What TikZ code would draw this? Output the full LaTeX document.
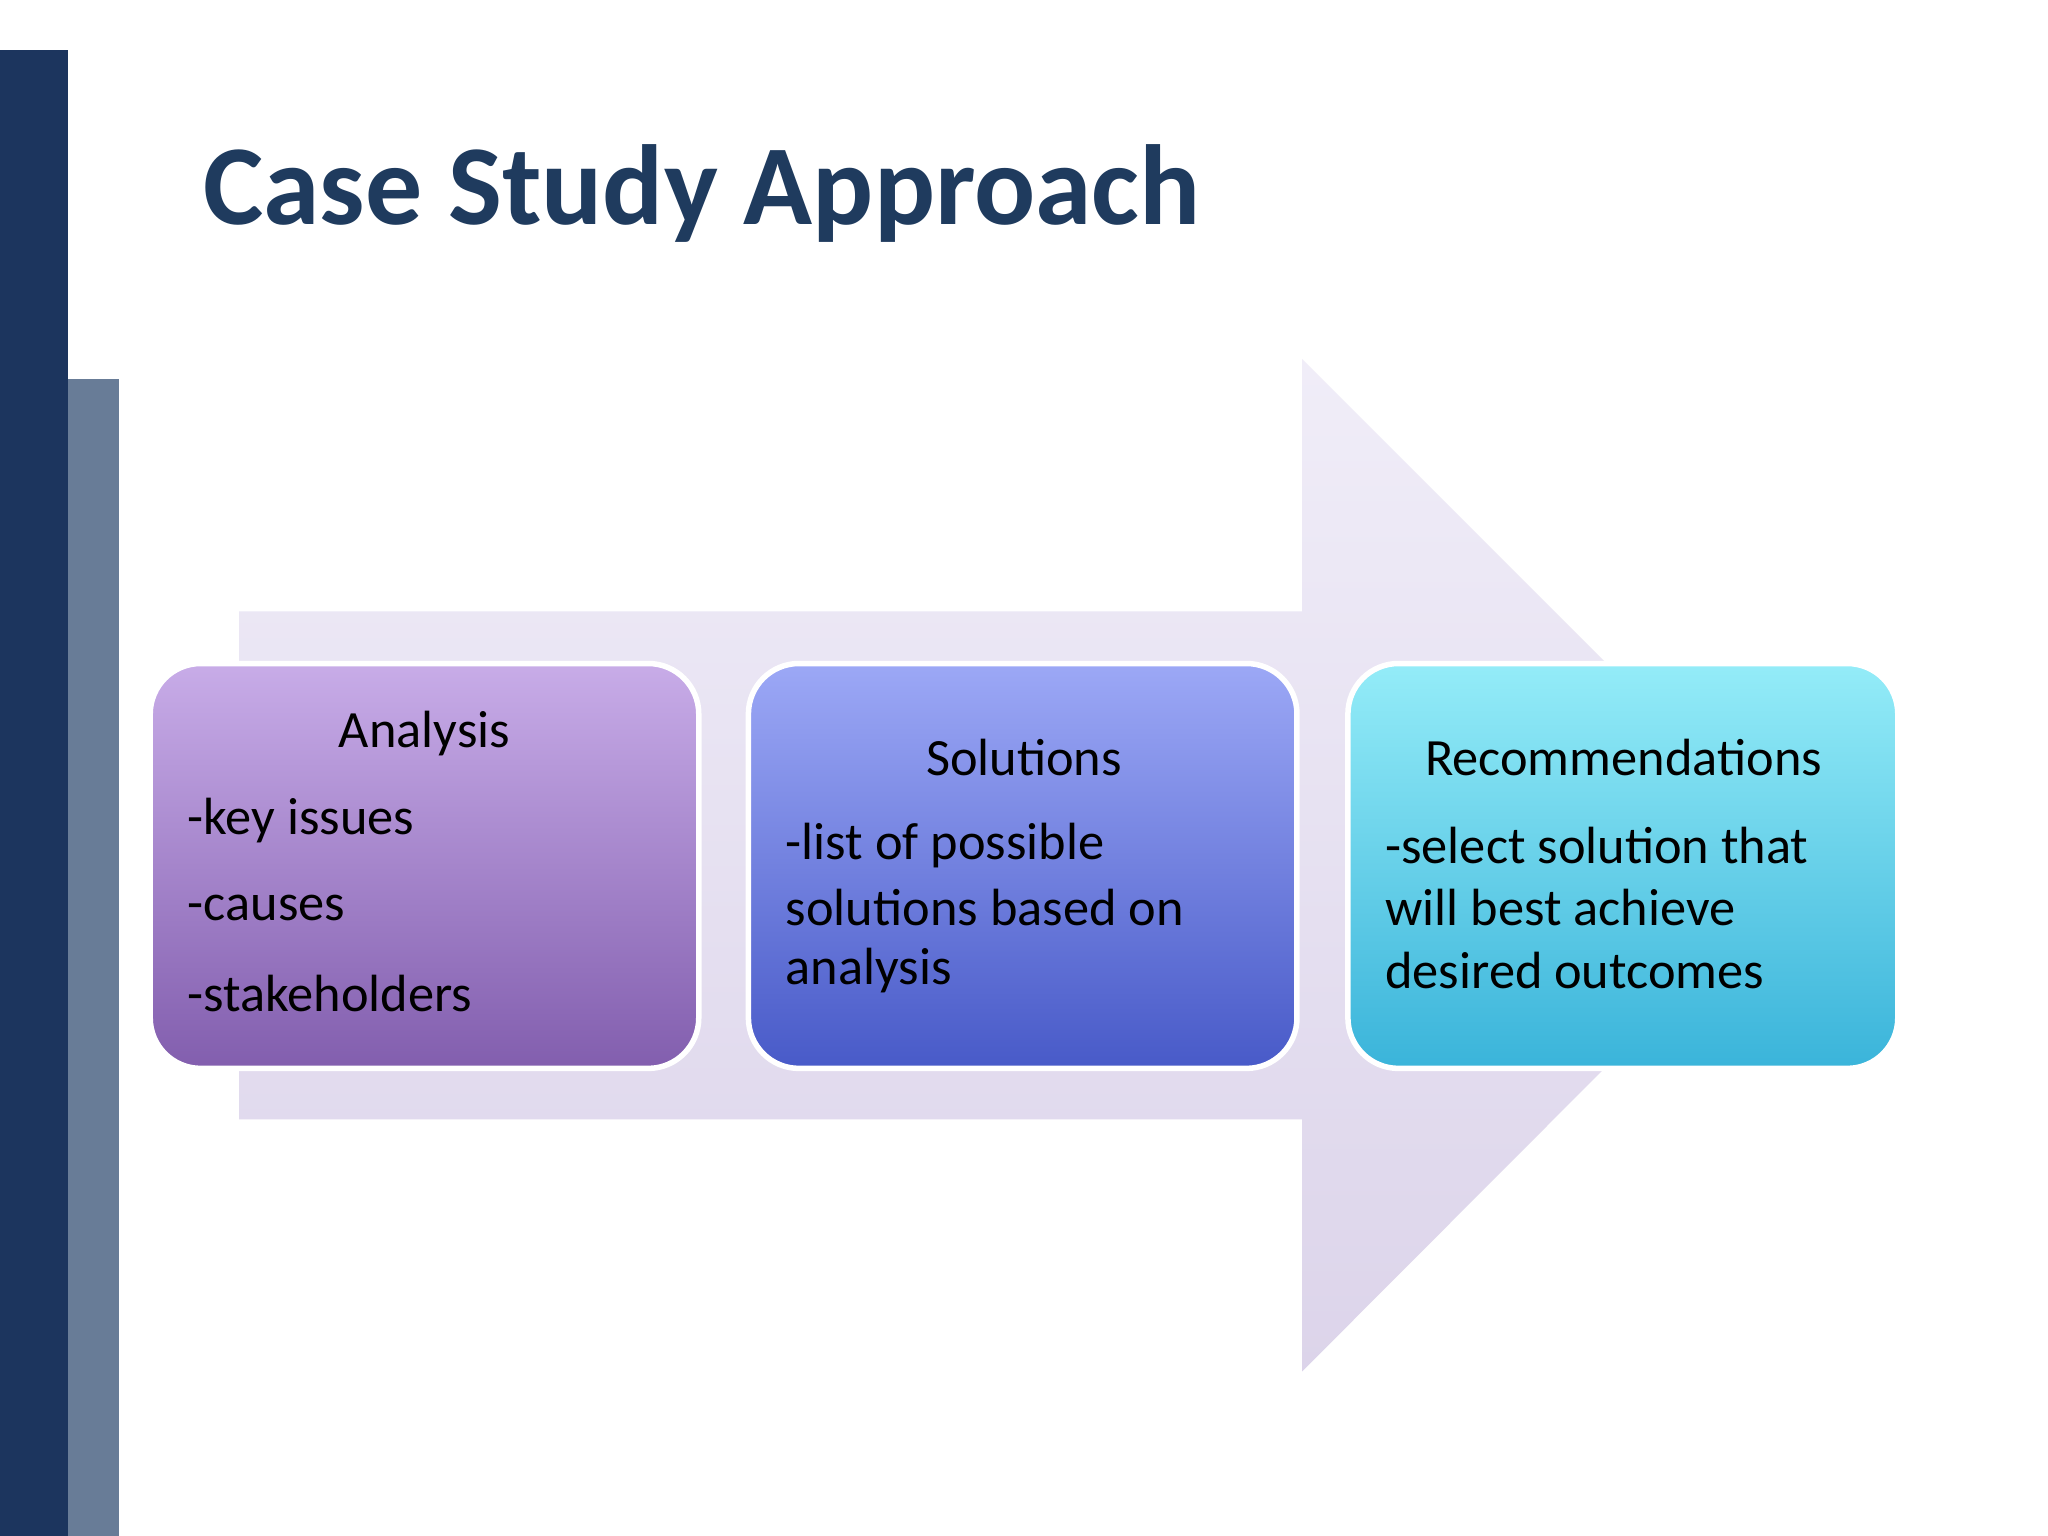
\documentclass[tikz,border=0pt]{standalone}
\usepackage{fontspec}
\setmainfont{Carlito}
\begin{document}
\begin{tikzpicture}[x=0.01cm,y=-0.01cm,
  box/.style={rounded corners=11pt, draw=white, line width=1.2pt},
  txt/.style={font=\fontsize{11.4pt}{12pt}\selectfont, anchor=west, inner sep=0},
  ctxt/.style={font=\fontsize{11.4pt}{12pt}\selectfont, anchor=center, inner sep=0}]
\useasboundingbox (0,0) rectangle (1568,1176);
\fill[white] (0,0) rectangle (1568,1176);
\fill[color={rgb,255:red,28;green,53;blue,94}] (0,38) rectangle (52,1176);
\fill[color={rgb,255:red,104;green,124;blue,151}] (52,290) rectangle (91,1176);
\node[anchor=base west, inner sep=0, font=\bfseries\fontsize{24.8pt}{30pt}\selectfont,
  text={rgb,255:red,31;green,59;blue,94}] (title) at (155,172) {Case Study Approach};
\shade[top color={rgb,255:red,240;green,237;blue,248}, bottom color={rgb,255:red,220;green,212;blue,234}]
  (183,468) -- (997,468) -- (997,275) -- (1384,662) -- (997,1050) -- (997,857) -- (183,857) -- cycle;
\shade[box, top color={rgb,255:red,200;green,172;blue,232}, bottom color={rgb,255:red,130;green,94;blue,174}]
  (115,508) rectangle (535,818);
\shade[box, top color={rgb,255:red,156;green,168;blue,246}, bottom color={rgb,255:red,72;green,90;blue,200}]
  (573,508) rectangle (993,818);
\shade[box, top color={rgb,255:red,148;green,236;blue,248}, bottom color={rgb,255:red,58;green,180;blue,218}]
  (1032,508) rectangle (1453,818);
\node[ctxt] (a0) at (325,562) {Analysis};
\node[txt] (a1) at (143,628) {-key issues};
\node[txt] (a2) at (143,695) {-causes};
\node[txt] (a3) at (143,761) {-stakeholders};
\node[ctxt] (b0) at (784,580) {Solutions};
\node[txt] (b1) at (601,647) {-list of possible};
\node[txt] (b2) at (601,695) {solutions based on};
\node[txt] (b3) at (601,743) {analysis};
\node[ctxt] (c0) at (1243,580) {Recommendations};
\node[txt] (c1) at (1060,647) {-select solution that};
\node[txt] (c2) at (1060,695) {will best achieve};
\node[txt] (c3) at (1060,743) {desired outcomes};
\end{tikzpicture}
\end{document}
